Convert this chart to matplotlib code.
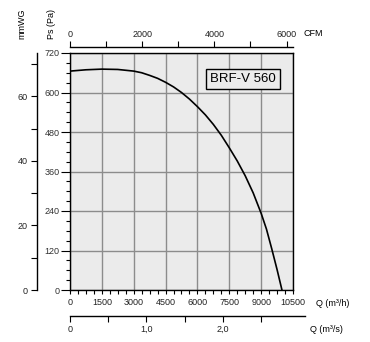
import numpy as np
import matplotlib
matplotlib.use("Agg")
import matplotlib.pyplot as plt
from matplotlib.ticker import MultipleLocator

plt.rcParams['font.family'] = ['Liberation Sans', 'DejaVu Sans']

# fan curve BRF-V 560 : flow in m3/h, static pressure in Pa
flow = [0, 750, 1500, 2250, 3000, 3375, 3750, 4125, 4500, 4875, 5250, 5625,
        6000, 6375, 6750, 7125, 7500, 7875, 8250, 8625, 9000, 9250, 9500,
        9750, 9980]
ps = [665, 669, 671, 670, 665, 660, 652, 643, 631, 617, 600, 580,
      557, 532, 503, 470, 432, 392, 347, 295, 233, 185, 125,
      62, 0]

model = 'BRF-V 560'
q_max = 10500
ps_max = 720

W, H = 370, 342
fig = plt.figure(figsize=(W / 100, H / 100), dpi=100)

# main axes in pixel terms
x0, x1 = 70, 293
y0, y1 = 53, 290
ax = fig.add_axes([x0 / W, 1 - y1 / H, (x1 - x0) / W, (y1 - y0) / H])
ax.set_facecolor('#ebebeb')
ax.set_xlim(0, q_max)
ax.set_ylim(0, ps_max)

ax.xaxis.set_major_locator(MultipleLocator(1500))
ax.xaxis.set_minor_locator(MultipleLocator(375))
ax.yaxis.set_major_locator(MultipleLocator(120))
ax.yaxis.set_minor_locator(MultipleLocator(30))
ax.grid(True, which='major', color='#8c8c8c', lw=1)
ax.set_axisbelow(True)

ax.tick_params(axis='x', which='both', direction='out', length=3, width=0.8,
               labelsize=6.5, pad=3, colors='black', labelcolor='#222222')
ax.tick_params(axis='y', which='major', direction='out', length=6.5, width=0.8,
               labelsize=6.5, pad=1, labelcolor='#333333')
ax.tick_params(axis='y', which='minor', direction='out', length=3.2, width=0.8)
for s in ax.spines.values():
    s.set_linewidth(1)

ax.plot(flow, ps, color='black', lw=1.2)

ax.text(0.776, 0.89, model, transform=ax.transAxes, ha='center', va='center',
        fontsize=9.5, bbox=dict(boxstyle='square,pad=0.3', fc='#ebebeb',
                                ec='black', lw=1))

# CFM scale on top
cfm = ax.secondary_xaxis(1 + 6 / (y1 - y0),
                         functions=(lambda q: q / 1.699, lambda c: c * 1.699))
cfm.xaxis.set_major_locator(MultipleLocator(2000))
cfm.xaxis.set_minor_locator(MultipleLocator(1000))
cfm.tick_params(which='both', direction='out', length=4, width=0.8,
                labelsize=6.5, pad=2, labelcolor='#222222')
cfm.spines['top'].set_linewidth(1)

# mmWG scale on the left
mm = ax.secondary_yaxis(-(x0 - 37) / (x1 - x0),
                        functions=(lambda p: p / 9.80665, lambda m: m * 9.80665))
mm.yaxis.set_major_locator(MultipleLocator(20))
mm.yaxis.set_minor_locator(MultipleLocator(10))
mm.tick_params(which='both', direction='out', length=4.5, width=0.8,
               labelsize=6.5, pad=2, labelcolor='#222222')
mm.spines['left'].set_linewidth(1)

# m3/s scale below
q_s_max = 3.07
w3 = (x1 - x0) * q_s_max / (q_max / 3600)
ax3 = fig.add_axes([x0 / W, 1 - 316 / H, w3 / W, 0.001])
ax3.set_xlim(0, q_s_max)
ax3.set_yticks([])
for side in ['top', 'left', 'right']:
    ax3.spines[side].set_visible(False)
ax3.spines['bottom'].set_linewidth(1)
ax3.set_xticks([0, 0.5, 1.0, 1.5, 2.0, 2.5])
ax3.set_xticklabels(['0', '', '1,0', '', '2,0', ''])
ax3.tick_params(axis='x', direction='out', length=4, width=0.8,
                labelsize=6.5, pad=2.5, labelcolor='#222222')

# unit labels
fig.text(316 / W, 1 - 303 / H, 'Q (m³/h)', fontsize=6.5, va='center', ha='left')
fig.text(310 / W, 1 - 329 / H, 'Q (m³/s)', fontsize=6.5, va='center', ha='left')
fig.text(304 / W, 1 - 34 / H, 'CFM', fontsize=6.5, va='center', ha='left')
fig.text(51 / W, 1 - 24 / H, 'Ps (Pa)', fontsize=6.5, va='center', ha='center',
         rotation=90)
fig.text(22 / W, 1 - 24 / H, 'mmWG', fontsize=6.5, va='center', ha='center',
         rotation=90)

fig.savefig('out.png', dpi=100)
